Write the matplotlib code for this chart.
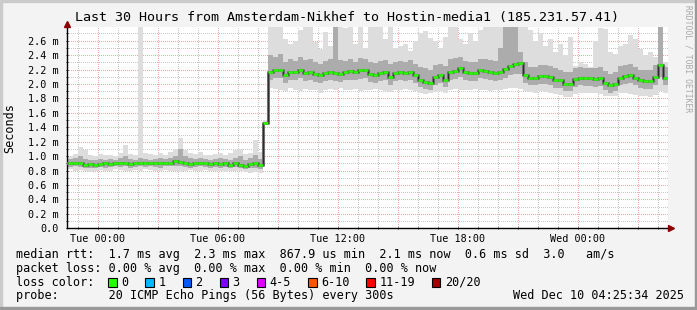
import numpy as np
import matplotlib
matplotlib.use('Agg')
import matplotlib.pyplot as plt
from matplotlib.patches import Rectangle
from matplotlib.transforms import offset_copy

# --- DATA (milliseconds, 15 minute bins starting 1.5 h before Tue 00:00) ---
TITLE = 'Last 30 Hours from Amsterdam-Nikhef to Hostin-media1 (185.231.57.41)'
START_HOUR = -1.5
STEP_HOURS = 0.25

median_ms = [
    0.91, 0.91, 0.90, 0.88, 0.89, 0.88, 0.89, 0.90, 0.89, 0.90,
    0.90, 0.91, 0.89, 0.90, 0.91, 0.90, 0.90, 0.91, 0.90, 0.91,
    0.91, 0.93, 0.92, 0.90, 0.89, 0.90, 0.91, 0.90, 0.89, 0.90,
    0.89, 0.90, 0.88, 0.90, 0.88, 0.87, 0.89, 0.90, 0.88, 1.46,
    2.16, 2.19, 2.20, 2.12, 2.16, 2.17, 2.20, 2.15, 2.17, 2.14,
    2.12, 2.15, 2.16, 2.15, 2.14, 2.16, 2.18, 2.17, 2.19, 2.20,
    2.14, 2.13, 2.15, 2.16, 2.10, 2.15, 2.16, 2.15, 2.16, 2.12,
    2.06, 2.03, 2.01, 2.10, 2.12, 2.06, 2.17, 2.18, 2.22, 2.16,
    2.15, 2.15, 2.19, 2.18, 2.16, 2.15, 2.16, 2.21, 2.25, 2.28,
    2.29, 2.13, 2.08, 2.08, 2.11, 2.11, 2.10, 2.06, 2.05, 2.00,
    2.00, 2.07, 2.09, 2.08, 2.08, 2.07, 2.08, 2.02, 1.98, 2.00,
    2.09, 2.11, 2.13, 2.09, 2.05, 2.04, 2.04, 2.10, 2.26, 2.09,
]

smoke_max = [
    1.00, 1.03, 1.12, 1.08, 1.02, 1.00, 1.03, 1.01, 1.02, 1.00,
    1.04, 1.15, 1.03, 1.02, 2.80, 1.05, 1.03, 1.01, 1.04, 1.02,
    1.06, 1.10, 1.25, 1.08, 1.04, 1.03, 1.06, 1.02, 1.01, 1.03,
    1.05, 1.02, 1.04, 1.08, 1.10, 1.03, 1.05, 1.22, 1.06, 1.50,
    2.80, 2.80, 2.80, 2.62, 2.55, 2.60, 2.75, 2.80, 2.80, 2.58,
    2.48, 2.72, 2.52, 2.80, 2.80, 2.78, 2.80, 2.56, 2.80, 2.50,
    2.80, 2.80, 2.80, 2.62, 2.80, 2.50, 2.52, 2.56, 2.46, 2.60,
    2.70, 2.74, 2.64, 2.60, 2.50, 2.65, 2.80, 2.80, 2.62, 2.55,
    2.70, 2.60, 2.75, 2.80, 2.80, 2.80, 2.80, 2.80, 2.80, 2.80,
    2.80, 2.80, 2.75, 2.60, 2.70, 2.52, 2.62, 2.45, 2.55, 2.40,
    2.65, 2.25, 2.30, 2.28, 2.24, 2.60, 2.78, 2.76, 2.45, 2.42,
    2.52, 2.56, 2.68, 2.62, 2.48, 2.40, 2.44, 2.38, 2.80, 2.30,
]

smoke_min = [
    0.82, 0.80, 0.81, 0.79, 0.78, 0.80, 0.81, 0.79, 0.80, 0.82,
    0.81, 0.80, 0.79, 0.81, 0.80, 0.82, 0.81, 0.80, 0.79, 0.81,
    0.80, 0.79, 0.78, 0.80, 0.81, 0.80, 0.79, 0.81, 0.80, 0.79,
    0.80, 0.78, 0.79, 0.80, 0.79, 0.78, 0.77, 0.78, 0.76, 1.44,
    1.95, 1.93, 1.92, 1.90, 1.94, 1.92, 1.90, 1.93, 1.91, 1.92,
    1.88, 1.91, 1.93, 1.92, 1.94, 1.91, 1.92, 1.93, 1.90, 1.92,
    1.91, 1.93, 1.92, 1.90, 1.89, 1.92, 1.91, 1.93, 1.92, 1.90,
    1.88, 1.86, 1.87, 1.89, 1.90, 1.88, 1.92, 1.93, 1.91, 1.92,
    1.91, 1.93, 1.92, 1.91, 1.90, 1.92, 1.91, 1.93, 1.94, 1.95,
    1.93, 1.90, 1.89, 1.88, 1.90, 1.89, 1.88, 1.86, 1.85, 1.82,
    1.82, 1.86, 1.88, 1.87, 1.88, 1.87, 1.86, 1.84, 1.83, 1.84,
    1.87, 1.88, 1.86, 1.85, 1.84, 1.83, 1.82, 1.85, 1.90, 1.88,
]

mid_hi = [
    0.96, 0.97, 1.00, 0.96, 0.95, 0.94, 0.96, 0.95, 0.96, 0.95,
    0.97, 1.00, 0.96, 0.95, 0.98, 0.96, 0.95, 0.96, 0.97, 0.96,
    0.97, 1.00, 1.10, 1.00, 0.97, 0.96, 0.98, 0.96, 0.95, 0.96,
    0.97, 0.96, 0.95, 0.98, 1.00, 0.95, 0.97, 1.02, 0.96, 1.48,
    2.40, 2.38, 2.42, 2.30, 2.34, 2.32, 2.38, 2.33, 2.35, 2.30,
    2.28, 2.32, 2.34, 2.80, 2.33, 2.32, 2.35, 2.30, 2.36, 2.34,
    2.30, 2.29, 2.32, 2.33, 2.28, 2.31, 2.32, 2.30, 2.33, 2.28,
    2.24, 2.22, 2.20, 2.26, 2.28, 2.25, 2.34, 2.36, 2.38, 2.32,
    2.30, 2.31, 2.35, 2.34, 2.33, 2.32, 2.50, 2.80, 2.80, 2.80,
    2.45, 2.30, 2.24, 2.24, 2.26, 2.26, 2.25, 2.22, 2.20, 2.16,
    2.17, 2.22, 2.23, 2.22, 2.22, 2.22, 2.24, 2.18, 2.14, 2.16,
    2.25, 2.26, 2.28, 2.24, 2.20, 2.19, 2.19, 2.26, 2.80, 2.24,
]

mid_lo = [
    0.85, 0.86, 0.85, 0.84, 0.83, 0.84, 0.85, 0.84, 0.85, 0.86,
    0.85, 0.86, 0.84, 0.85, 0.86, 0.85, 0.86, 0.85, 0.84, 0.86,
    0.86, 0.87, 0.86, 0.85, 0.84, 0.85, 0.86, 0.85, 0.84, 0.85,
    0.84, 0.85, 0.83, 0.85, 0.83, 0.82, 0.83, 0.84, 0.82, 1.45,
    2.06, 2.08, 2.08, 2.02, 2.05, 2.06, 2.08, 2.04, 2.06, 2.03,
    2.01, 2.04, 2.05, 2.04, 2.03, 2.05, 2.06, 2.05, 2.07, 2.08,
    2.03, 2.02, 2.04, 2.05, 1.99, 2.04, 2.05, 2.04, 2.05, 2.01,
    1.96, 1.93, 1.92, 1.99, 2.01, 1.96, 2.06, 2.07, 2.10, 2.05,
    2.04, 2.04, 2.08, 2.07, 2.05, 2.04, 2.05, 2.09, 2.12, 2.14,
    2.14, 2.02, 1.98, 1.98, 2.00, 2.00, 1.99, 1.95, 1.94, 1.90,
    1.90, 1.96, 1.98, 1.97, 1.97, 1.96, 1.97, 1.92, 1.88, 1.90,
    1.98, 2.00, 2.02, 1.98, 1.94, 1.93, 1.93, 1.99, 2.10, 1.98,
]

x_tick_hours = [0, 6, 12, 18, 24]
x_tick_labels = ['Tue 00:00', 'Tue 06:00', 'Tue 12:00', 'Tue 18:00', 'Wed 00:00']
y_ticks = [0.0, 0.2, 0.4, 0.6, 0.8, 1.0, 1.2, 1.4, 1.6, 1.8, 2.0, 2.2, 2.4, 2.6]
y_tick_labels = ['0.0', '0.2 m', '0.4 m', '0.6 m', '0.8 m', '1.0 m', '1.2 m',
                 '1.4 m', '1.6 m', '1.8 m', '2.0 m', '2.2 m', '2.4 m', '2.6 m']

legend_lines = [
    'median rtt:  1.7 ms avg  2.3 ms max  867.9 us min  2.1 ms now  0.6 ms sd  3.0   am/s',
    'packet loss: 0.00 % avg  0.00 % max  0.00 % min  0.00 % now',
]
loss_labels = ['0', '1', '2', '3', '4-5', '6-10', '11-19', '20/20']
loss_colors = ['#26ff00', '#00b8ff', '#0059ff', '#7e00ff', '#dd00ff', '#ff5500', '#ff0000', '#a10000']
probe_text = 'probe:       20 ICMP Echo Pings (56 Bytes) every 300s'
stamp_text = 'Wed Dec 10 04:25:34 2025'

# --- FIGURE ---
W, H = 697, 310
MONO = 'DejaVu Sans Mono'
plt.rcParams['font.family'] = MONO

fig = plt.figure(figsize=(W / 100, H / 100), dpi=100, facecolor='#f3f3f3')

def fx(x):
    return x / W

def fy(y):
    return 1 - y / H

# frame shading like rrdtool
fig.patches.append(Rectangle((0, fy(2)), 1, 2 / H, transform=fig.transFigure, color='#cbcbcb', zorder=0))
fig.patches.append(Rectangle((0, 0), 2 / W, 1, transform=fig.transFigure, color='#cbcbcb', zorder=0))
fig.patches.append(Rectangle((0, 0), 1, 3 / H, transform=fig.transFigure, color='#999999', zorder=0))
fig.patches.append(Rectangle((fx(W - 2), 0), 2 / W, 1, transform=fig.transFigure, color='#999999', zorder=0))

left, right, top, bottom = 67, 668, 27, 228.3
ax = fig.add_axes([fx(left), fy(bottom), (right - left) / W, (bottom - top) / H])
ax.set_facecolor('white')

n = len(median_ms)
t0 = START_HOUR + STEP_HOURS * np.arange(n)
t_edges = np.append(t0, t0[-1] + STEP_HOURS)

def stepped(vals):
    v = np.asarray(vals)
    return np.append(v, v[-1])

# grid, dotted 1px on / 1px off
grid_kw = dict(lw=0.72, ls=(0, (1, 1.4)), antialiased=False)
for h in np.arange(-1, 29, 1):
    if h % 3 != 0:
        ax.axvline(h, color='#c8c8c8', zorder=0.5, **grid_kw)
for h in np.arange(0, 29, 3):
    ax.axvline(h, color='#eeaaaa', zorder=0.6, **grid_kw)
for v in np.arange(0.1, 2.8, 0.2):
    ax.axhline(v, color='#c8c8c8', zorder=0.5, **grid_kw)
for v in y_ticks[1:]:
    ax.axhline(v, color='#eeaaaa', zorder=0.6, **grid_kw)

# smoke
ax.fill_between(t_edges, stepped(smoke_min), stepped(smoke_max), step='post',
                color='#dddddd', lw=0, zorder=1)
ax.fill_between(t_edges, stepped(mid_lo), stepped(mid_hi), step='post',
                color='#acacac', lw=0, zorder=2)
ax.step(t_edges, stepped(median_ms), where='post', color='#6e6e6e', lw=2.2, zorder=3)

# median line
ax.step(t_edges, stepped(median_ms), where='post', color='#202020', lw=0.6, zorder=4)
ax.hlines(median_ms, t0, t0 + STEP_HOURS, color=loss_colors[0], lw=1.8, zorder=5)

ax.set_xlim(-1.535, 28.515)
ax.set_ylim(0, 2.79)

for s in ['top', 'right']:
    ax.spines[s].set_visible(False)
for s in ['left', 'bottom']:
    ax.spines[s].set_color('black')
    ax.spines[s].set_linewidth(1.0)

ax.set_xticks(x_tick_hours)
ax.set_xticklabels(x_tick_labels, fontsize=7.3, family=MONO)
ax.set_yticks(y_ticks)
ax.set_yticklabels(y_tick_labels, fontsize=7.3, family=MONO)
ax.tick_params(axis='both', length=2, width=0.7, direction='inout', color='black')
ax.tick_params(axis='y', pad=5)
ax.tick_params(axis='x', pad=3)
ax.set_xticks(np.arange(-1, 29, 1), minor=True)
ax.set_yticks(np.arange(0.1, 2.8, 0.2), minor=True)
ax.tick_params(which='minor', length=1.5, width=0.6, direction='inout')

# axis arrows
arrow_up = offset_copy(ax.transAxes, fig=fig, x=0, y=3.5, units='dots')
ax.plot([0], [1], marker='^', ms=4.5, color='#8b0000', transform=arrow_up, clip_on=False, zorder=6)
arrow_right = offset_copy(ax.transAxes, fig=fig, x=3, y=0, units='dots')
ax.plot([1], [0], marker='>', ms=4.5, color='#8b0000', transform=arrow_right, clip_on=False, zorder=6)

# texts
fig.text(fx(347), fy(18), TITLE, fontsize=9.6, ha='center', va='center', family=MONO)
fig.text(fx(10), fy(128), 'Seconds', fontsize=8.5, rotation=90, ha='center', va='center', family=MONO)
fig.text(fx(688), fy(59), 'RRDTOOL / TOBI OETIKER', fontsize=5.8, rotation=270,
         ha='center', va='center', color='#a8a8a8', family=MONO)

line_y = [254.3, 268.3, 282.3, 295.7]
for i, line in enumerate(legend_lines):
    fig.text(fx(16), fy(line_y[i]), line, fontsize=8.5, ha='left', va='center', family=MONO)

fig.text(fx(16), fy(line_y[2]), 'loss color:', fontsize=8.5, ha='left', va='center', family=MONO)
xpos = 108.3
for lab, col in zip(loss_labels, loss_colors):
    fig.patches.append(Rectangle((fx(xpos), fy(line_y[2] + 4.3)), 8.5 / W, 8.5 / H,
                                 transform=fig.transFigure, facecolor=col,
                                 edgecolor='black', lw=0.8, zorder=3))
    fig.text(fx(xpos + 13), fy(line_y[2]), lab, fontsize=8.5, ha='left', va='center', family=MONO)
    xpos += 13 + 7.1 * len(lab) + 17

fig.text(fx(16), fy(line_y[3]), probe_text, fontsize=8.5, ha='left', va='center', family=MONO)
fig.text(fx(513), fy(line_y[3]), stamp_text, fontsize=8.5, ha='left', va='center', family=MONO)

fig.savefig('out.png', dpi=100, facecolor=fig.get_facecolor())
